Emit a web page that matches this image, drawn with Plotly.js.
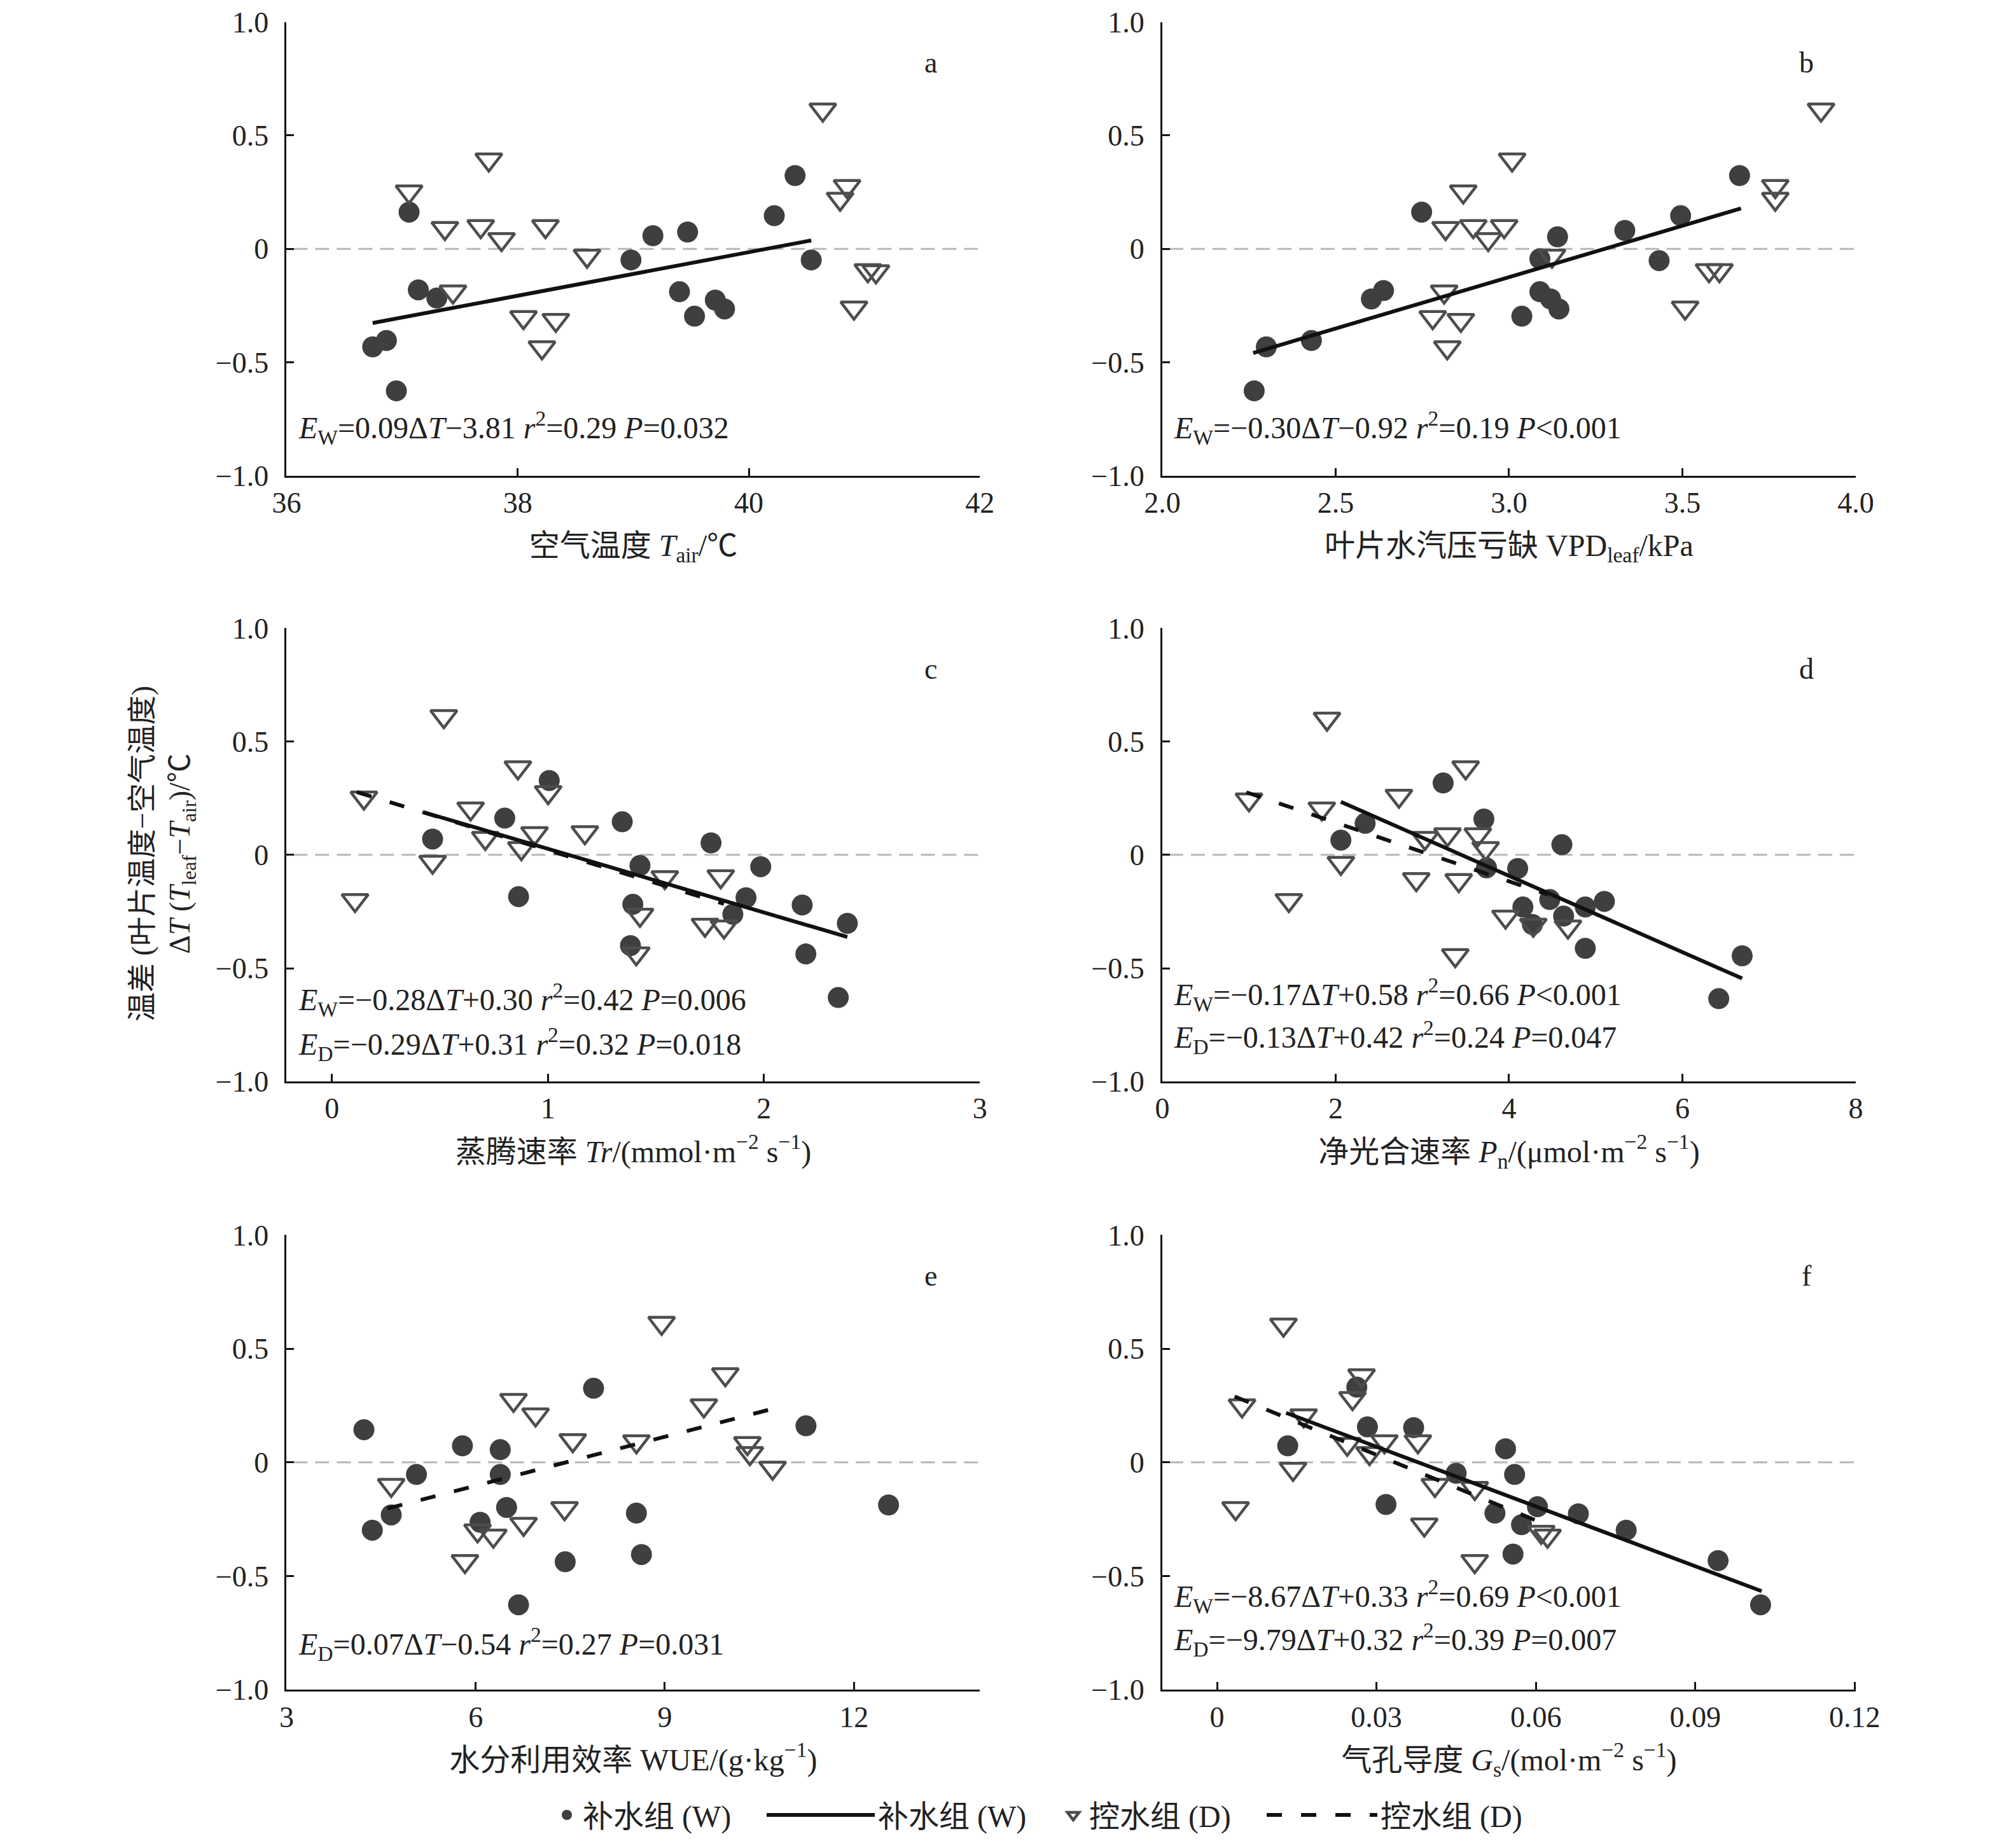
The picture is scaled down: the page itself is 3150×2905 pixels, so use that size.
<!DOCTYPE html>
<html>
<head>
<meta charset="utf-8">
<script src="https://cdn.plot.ly/plotly-3.0.1.min.js"></script>
<style>html,body{margin:0;padding:0;background:#fff}#chart{width:3150px;height:2905px}</style>
</head>
<body>
<div id="chart"></div>
<script>
// ---------- data ----------
// panel a : air temperature
const aWx = [36.745, 36.864, 36.95, 37.06, 37.14, 37.30, 38.98, 39.17, 39.47, 39.40, 39.53, 39.71, 39.79, 40.22, 40.40, 40.54];
const aWy = [-0.432, -0.404, -0.626, 0.162, -0.181, -0.217, -0.049, 0.058, 0.074, -0.189, -0.297, -0.226, -0.265, 0.146, 0.323, -0.049];
const aDx = [37.06, 37.37, 37.44, 37.68, 37.75, 37.86, 38.05, 38.21, 38.24, 38.33, 38.60, 40.64, 40.85, 40.79, 40.91, 41.03, 41.10];
const aDy = [0.252, 0.091, -0.189, 0.099, 0.393, 0.042, -0.302, -0.435, 0.099, -0.314, -0.031, 0.613, 0.276, 0.220, -0.260, -0.095, -0.100];
const aWLineX = [36.745, 40.54];
const aWLineY = [-0.327, 0.037];

// panel b : VPD leaf
const bWx = [2.265, 2.30, 2.43, 2.603, 2.638, 2.748, 3.037, 3.089, 3.089, 3.12, 3.144, 3.14, 3.334, 3.433, 3.495, 3.665];
const bWy = [-0.626, -0.432, -0.404, -0.221, -0.184, 0.162, -0.297, -0.044, -0.189, -0.221, -0.265, 0.053, 0.081, -0.052, 0.146, 0.323];
const bDx = [2.817, 2.868, 2.897, 2.94, 2.986, 3.009, 2.813, 2.78, 2.861, 2.822, 3.124, 3.508, 3.577, 3.607, 3.768, 3.768, 3.90];
const bDy = [0.091, 0.252, 0.099, 0.042, 0.099, 0.393, -0.189, -0.302, -0.314, -0.435, -0.031, -0.260, -0.095, -0.095, 0.276, 0.220, 0.613];
const bWLineX = [2.262, 3.669];
const bWLineY = [-0.459, 0.178];

// panel c : transpiration
const cWx = [0.466, 0.80, 0.864, 1.006, 1.344, 1.426, 1.393, 1.382, 1.755, 1.856, 1.917, 1.985, 2.177, 2.194, 2.386, 2.344];
const cWy = [0.070, 0.162, -0.184, 0.328, 0.146, -0.047, -0.218, -0.400, 0.053, -0.262, -0.189, -0.052, -0.221, -0.437, -0.302, -0.629];
const cDx = [0.107, 0.148, 0.466, 0.518, 0.642, 0.71, 0.861, 0.877, 0.938, 1.001, 1.171, 1.426, 1.409, 1.541, 1.727, 1.815, 1.80];
const cDy = [-0.200, 0.252, -0.031, 0.611, 0.204, 0.074, 0.385, 0.029, 0.095, 0.276, 0.099, -0.265, -0.435, -0.099, -0.309, -0.317, -0.095];
const cWLineX = [0.425, 2.386];
const cWLineY = [0.188, -0.362];
const cDLineX = [0.115, 1.815];
const cDLineY = [0.277, -0.216];

// panel d : net photosynthesis
const dWx = [2.06, 2.34, 3.24, 3.71, 3.74, 4.10, 4.16, 4.27, 4.47, 4.61, 4.63, 4.88, 4.88, 5.10, 6.42, 6.69];
const dWy = [0.065, 0.139, 0.317, 0.158, -0.057, -0.060, -0.230, -0.307, -0.197, 0.045, -0.270, -0.230, -0.412, -0.205, -0.634, -0.445];
const dDx = [1.00, 1.46, 1.90, 1.84, 2.06, 2.73, 2.93, 3.03, 3.29, 3.42, 3.38, 3.50, 3.64, 3.73, 3.96, 4.28, 4.68];
const dDy = [0.244, -0.200, 0.600, 0.204, -0.036, 0.260, -0.108, 0.074, 0.090, -0.112, -0.443, 0.385, 0.090, 0.029, -0.273, -0.309, -0.317];
const dWLineX = [2.06, 6.69];
const dWLineY = [0.234, -0.545];
const dDLineX = [0.97, 4.45];
const dDLineY = [0.276, -0.175];

// panel e : water use efficiency
const eWx = [4.227, 4.36, 4.66, 5.06, 5.79, 6.07, 6.39, 6.39, 6.49, 6.68, 7.42, 7.87, 8.55, 8.63, 11.24, 12.55];
const eWy = [0.144, -0.298, -0.231, -0.053, 0.073, -0.263, 0.056, -0.053, -0.198, -0.626, -0.437, 0.326, -0.223, -0.405, 0.161, -0.187];
const eDx = [4.66, 5.83, 6.03, 6.28, 6.60, 6.76, 6.95, 7.41, 7.54, 8.55, 8.95, 9.62, 9.96, 10.31, 10.35, 10.71];
const eDy = [-0.100, -0.435, -0.300, -0.323, 0.274, -0.271, 0.210, -0.202, 0.097, 0.092, 0.613, 0.250, 0.387, 0.084, 0.040, -0.024];
const eDLineX = [4.60, 10.73];
const eDLineY = [-0.203, 0.237];

// panel f : stomatal conductance
const fWx = [0.0133, 0.0263, 0.0283, 0.0318, 0.037, 0.045, 0.0523, 0.0543, 0.056, 0.0557, 0.0573, 0.0603, 0.068, 0.077, 0.0943, 0.1023];
const fWy = [0.073, 0.331, 0.156, -0.185, 0.153, -0.048, -0.223, 0.060, -0.053, -0.403, -0.274, -0.195, -0.226, -0.298, -0.432, -0.626];
const fDx = [0.0035, 0.0047, 0.0125, 0.0143, 0.0163, 0.0245, 0.0255, 0.0272, 0.0287, 0.0315, 0.0378, 0.039, 0.041, 0.0485, 0.0485, 0.061, 0.0622];
const fDy = [-0.202, 0.250, 0.605, -0.029, 0.206, 0.081, 0.282, 0.382, 0.040, 0.092, 0.092, -0.274, -0.100, -0.113, -0.435, -0.306, -0.323];
const fWLineX = [0.013, 0.1025];
const fWLineY = [0.218, -0.566];
const fDLineX = [0.0033, 0.0625];
const fDLineY = [0.290, -0.279];

// ticks and texts
const yTickVals = [-1, -0.5, 0, 0.5, 1];
const yTickText = ['\u22121.0', '\u22120.5', '0', '0.5', '1.0'];
const aTicks = [36, 38, 40, 42];           const aTickText = ['36', '38', '40', '42'];
const bTicks = [2.0, 2.5, 3.0, 3.5, 4.0];  const bTickText = ['2.0', '2.5', '3.0', '3.5', '4.0'];
const cTicks = [0, 1, 2, 3];               const cTickText = ['0', '1', '2', '3'];
const dTicks = [0, 2, 4, 6, 8];            const dTickText = ['0', '2', '4', '6', '8'];
const eTicks = [3, 6, 9, 12];              const eTickText = ['3', '6', '9', '12'];
const fTicks = [0, 0.03, 0.06, 0.09, 0.12]; const fTickText = ['0', '0.03', '0.06', '0.09', '0.12'];
const xRanges = [[36, 42], [2, 4], [-0.21, 3], [0, 8], [3, 14], [-0.0103, 0.1202]];
const xTitles = [
  '空气温度 <i>T</i><sub>air</sub>/℃',
  '叶片水汽压亏缺 VPD<sub>leaf</sub>/kPa',
  '蒸腾速率 <i>Tr</i>/(mmol·m<sup>\u22122</sup> s<sup>\u22121</sup>)',
  '净光合速率 <i>P</i><sub>n</sub>/(μmol·m<sup>\u22122</sup> s<sup>\u22121</sup>)',
  '水分利用效率 WUE/(g·kg<sup>\u22121</sup>)',
  '气孔导度 <i>G</i><sub>s</sub>/(mol·m<sup>\u22122</sup> s<sup>\u22121</sup>)'
];
const panelLetters = ['a', 'b', 'c', 'd', 'e', 'f'];
const equations = [
  ['<i>E</i><sub>W</sub>=0.09Δ<i>T</i>\u22123.81 <i>r</i><sup>2</sup>=0.29 <i>P</i>=0.032'],
  ['<i>E</i><sub>W</sub>=\u22120.30Δ<i>T</i>\u22120.92 <i>r</i><sup>2</sup>=0.19 <i>P</i><0.001'],
  ['<i>E</i><sub>W</sub>=\u22120.28Δ<i>T</i>+0.30 <i>r</i><sup>2</sup>=0.42 <i>P</i>=0.006',
   '<i>E</i><sub>D</sub>=\u22120.29Δ<i>T</i>+0.31 <i>r</i><sup>2</sup>=0.32 <i>P</i>=0.018'],
  ['<i>E</i><sub>W</sub>=\u22120.17Δ<i>T</i>+0.58 <i>r</i><sup>2</sup>=0.66 <i>P</i><0.001',
   '<i>E</i><sub>D</sub>=\u22120.13Δ<i>T</i>+0.42 <i>r</i><sup>2</sup>=0.24 <i>P</i>=0.047'],
  ['<i>E</i><sub>D</sub>=0.07Δ<i>T</i>\u22120.54 <i>r</i><sup>2</sup>=0.27 <i>P</i>=0.031'],
  ['<i>E</i><sub>W</sub>=\u22128.67Δ<i>T</i>+0.33 <i>r</i><sup>2</sup>=0.69 <i>P</i><0.001',
   '<i>E</i><sub>D</sub>=\u22129.79Δ<i>T</i>+0.32 <i>r</i><sup>2</sup>=0.39 <i>P</i>=0.007']
];
const eqYs = [[-0.79], [-0.79], [-0.64, -0.835], [-0.615, -0.805], [-0.80], [-0.59, -0.78]];
const yTitleText = '温差 (叶片温度\u2212空气温度)<br>Δ<i>T</i> (<i>T</i><sub>leaf</sub>\u2212<i>T</i><sub>air</sub>)/℃';
const legendNames = ['补水组 (W)', '补水组 (W)', '控水组 (D)', '控水组 (D)'];

// ---------- styling ----------
const FONT = '"Liberation Serif", "Times New Roman", "Noto Sans CJK SC", serif';
const circleColor = '#3f3f3f';
const triColor = '#4d4d4d';
const xDomains = [[0.143, 0.489], [0.580, 0.926]];
const yDomains = [[0.7426, 0.9881], [0.4147, 0.6601], [0.0856, 0.3317]];
const legendY = 0.0178;
const legFont = {family: FONT, size: 48, color: '#222'};

const panels = [
  {Wx: aWx, Wy: aWy, Dx: aDx, Dy: aDy, WL: [aWLineX, aWLineY], DL: null, ticks: aTicks, tt: aTickText},
  {Wx: bWx, Wy: bWy, Dx: bDx, Dy: bDy, WL: [bWLineX, bWLineY], DL: null, ticks: bTicks, tt: bTickText},
  {Wx: cWx, Wy: cWy, Dx: cDx, Dy: cDy, WL: [cWLineX, cWLineY], DL: [cDLineX, cDLineY], ticks: cTicks, tt: cTickText},
  {Wx: dWx, Wy: dWy, Dx: dDx, Dy: dDy, WL: [dWLineX, dWLineY], DL: [dDLineX, dDLineY], ticks: dTicks, tt: dTickText},
  {Wx: eWx, Wy: eWy, Dx: eDx, Dy: eDy, WL: null, DL: [eDLineX, eDLineY], ticks: eTicks, tt: eTickText},
  {Wx: fWx, Wy: fWy, Dx: fDx, Dy: fDy, WL: [fWLineX, fWLineY], DL: [fDLineX, fDLineY], ticks: fTicks, tt: fTickText}
];

const traces = [];
const legBase = {orientation: 'h', y: legendY, yanchor: 'middle', xanchor: 'left', font: legFont,
                 bgcolor: 'rgba(0,0,0,0)', borderwidth: 0};
const layout = {
  width: 3150, height: 2905,
  margin: {l: 0, r: 0, t: 0, b: 0},
  paper_bgcolor: '#fff', plot_bgcolor: 'rgba(0,0,0,0)',
  font: {family: FONT, size: 46, color: '#222'},
  showlegend: true,
  legend:  Object.assign({}, legBase, {x: 866 / 3150, itemwidth: 40}),
  legend2: Object.assign({}, legBase, {x: 1200 / 3150, itemwidth: 170}),
  legend3: Object.assign({}, legBase, {x: 1662 / 3150, itemwidth: 40}),
  legend4: Object.assign({}, legBase, {x: 1986 / 3150, itemwidth: 174}),
  shapes: [], annotations: []
};
let seen = {W: false, WL: false, D: false, DL: false};

panels.forEach((p, i) => {
  const n = i + 1;
  const xa = n === 1 ? 'x' : 'x' + n;
  const ya = n === 1 ? 'y' : 'y' + n;
  const col = i % 2, row = Math.floor(i / 2);
  layout[n === 1 ? 'xaxis' : 'xaxis' + n] = {
    domain: xDomains[col], anchor: ya, range: xRanges[i],
    tickvals: p.ticks, ticktext: p.tt, ticks: 'inside', ticklen: 12, tickwidth: 3, tickcolor: '#111',
    showline: true, linecolor: '#111', linewidth: 3, showgrid: false, zeroline: false,
    tickfont: {family: FONT, size: 46, color: '#222'}, ticklabelstandoff: 0,
    title: {text: xTitles[i], font: {family: FONT, size: 48, color: '#222'}, standoff: 26}
  };
  layout[n === 1 ? 'yaxis' : 'yaxis' + n] = {
    domain: yDomains[row], anchor: xa, range: [-1, 1],
    tickvals: yTickVals, ticktext: yTickText, ticks: 'inside', ticklen: 12, tickwidth: 3, tickcolor: '#111',
    showline: true, linecolor: '#111', linewidth: 3, showgrid: false, zeroline: false,
    tickfont: {family: FONT, size: 46, color: '#222'}, ticklabelstandoff: 16
  };
  // zero reference line
  layout.shapes.push({type: 'line', layer: 'below', xref: xa + ' domain', yref: ya,
    x0: 0.01, x1: 1, y0: 0, y1: 0, line: {color: '#b8b8b8', width: 3, dash: '22px,12px'}});

  traces.push({type: 'scatter', mode: 'markers', x: p.Wx, y: p.Wy, xaxis: xa, yaxis: ya,
    name: legendNames[0], legend: 'legend', showlegend: !seen.W,
    marker: {symbol: 'circle', size: 33, color: circleColor, line: {width: 0}}});
  seen.W = true;
  traces.push({type: 'scatter', mode: 'markers', x: p.Dx, y: p.Dy, xaxis: xa, yaxis: ya,
    name: legendNames[2], legend: 'legend3', showlegend: !seen.D,
    marker: {symbol: 'triangle-down-open', size: 36, color: triColor, line: {width: 4.5, color: triColor}}});
  seen.D = true;
  if (p.DL) {
    traces.push({type: 'scatter', mode: 'lines', x: p.DL[0], y: p.DL[1], xaxis: xa, yaxis: ya,
      name: legendNames[3], legend: 'legend4', showlegend: !seen.DL,
      line: {color: '#111', width: 6, dash: '24px,30px'}});
    seen.DL = true;
  }
  if (p.WL) {
    traces.push({type: 'scatter', mode: 'lines', x: p.WL[0], y: p.WL[1], xaxis: xa, yaxis: ya,
      name: legendNames[1], legend: 'legend2', showlegend: !seen.WL,
      line: {color: '#111', width: 6}});
    seen.WL = true;
  }
  // panel letter
  layout.annotations.push({xref: xa + ' domain', yref: ya, x: 0.929, y: 0.82, text: panelLetters[i],
    showarrow: false, xanchor: 'center', yanchor: 'middle', font: {family: FONT, size: 46, color: '#222'}});
  // equations
  equations[i].forEach((t, k) => {
    layout.annotations.push({xref: xa + ' domain', yref: ya, x: 0.015, y: eqYs[i][k], text: t,
      showarrow: false, xanchor: 'left', yanchor: 'middle', font: {family: FONT, size: 48, color: '#222'}});
  });
});

// shared y title
layout.annotations.push({xref: 'paper', yref: 'paper', x: 0.0812, y: 0.538, text: yTitleText,
  textangle: -90, align: 'center', showarrow: false, xanchor: 'center', yanchor: 'middle',
  font: {family: FONT, size: 46, color: '#222'}});

Plotly.newPlot('chart', traces, layout, {displayModeBar: false, staticPlot: true});
</script>
</body>
</html>
